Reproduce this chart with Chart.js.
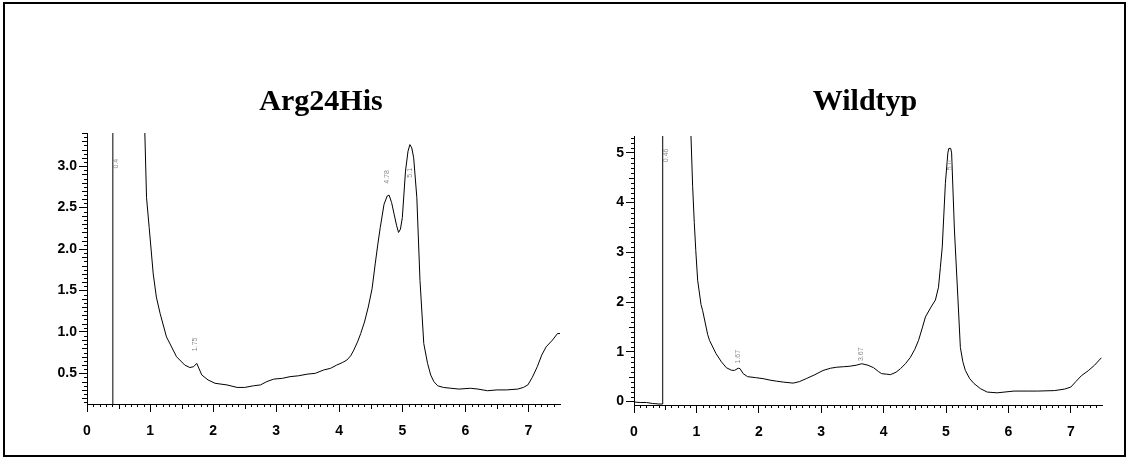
<!DOCTYPE html>
<html>
<head>
<meta charset="utf-8">
<script src="https://cdn.jsdelivr.net/npm/chart.js@4.4.1/dist/chart.umd.min.js"></script>
<style>
    html, body { margin: 0; padding: 0; background: #fff; }
    #page { position: relative; width: 1128px; height: 459px; overflow: hidden; }
    .box { position: absolute; top: 0; width: 564px; height: 459px; }
    .title { position: absolute; top: 85px; font: bold 30px "Liberation Serif", "Times New Roman", serif;
             line-height: 30px; transform: translateX(-50%); white-space: nowrap; color: #000; }
    #frame { position: absolute; left: 3px; top: 2px; width: 1119px; height: 451px;
             border: 2px solid #000; pointer-events: none; }
</style>
</head>
<body>
<div id="page">
    <div class="box" style="left:0"><canvas id="chartLeft" width="564" height="459"></canvas></div>
    <div class="box" style="left:564px"><canvas id="chartRight" width="564" height="459"></canvas></div>
    <div class="title" style="left:321px">Arg24His</div>
    <div class="title" style="left:865px">Wildtyp</div>
    <div id="frame"></div>
</div>
<script>
/* ---- data ---- */
var xTickValues = [0, 1, 2, 3, 4, 5, 6, 7];
var leftYTickValues = [0.5, 1.0, 1.5, 2.0, 2.5, 3.0];
var rightYTickValues = [0, 1, 2, 3, 4, 5];

// Arg24His
var leftTime = [0, 0.39, 0.40, 0.41, 0.90, 0.917, 0.944, 0.986, 1.05, 1.10, 1.16, 1.26, 1.42, 1.55, 1.63, 1.69, 1.74,
    1.82, 1.92, 2.03, 2.22, 2.38, 2.50, 2.64, 2.75, 2.85, 2.96, 3.10, 3.22, 3.35, 3.49, 3.62, 3.75, 3.86, 3.96, 4.05,
    4.12, 4.18, 4.23, 4.29, 4.34, 4.40, 4.46, 4.52, 4.57, 4.61, 4.65, 4.71, 4.76, 4.79, 4.83, 4.87, 4.91, 4.94, 4.97,
    5.00, 5.05, 5.09, 5.12, 5.15, 5.18, 5.23, 5.28, 5.34, 5.40, 5.45, 5.50, 5.56, 5.65, 5.77, 5.90, 6.08, 6.20, 6.35,
    6.50, 6.65, 6.83, 6.92, 6.99, 7.06, 7.14, 7.21, 7.28, 7.38, 7.46, 7.50];
var leftSignal = [0, 0, 0, 6, 6, 3.40, 2.62, 2.26, 1.70, 1.42, 1.22, 0.94, 0.70, 0.60, 0.57, 0.58, 0.62,
    0.48, 0.42, 0.38, 0.36, 0.33, 0.33, 0.35, 0.36, 0.40, 0.43, 0.44, 0.46, 0.47, 0.49, 0.50, 0.54, 0.56, 0.60, 0.63,
    0.66, 0.71, 0.78, 0.88, 0.98, 1.12, 1.30, 1.52, 1.82, 2.05, 2.26, 2.54, 2.64, 2.65, 2.56, 2.42, 2.28, 2.20, 2.24,
    2.38, 2.94, 3.18, 3.26, 3.22, 3.10, 2.62, 1.62, 0.86, 0.62, 0.48, 0.40, 0.35, 0.33, 0.32, 0.31, 0.32, 0.31, 0.29,
    0.30, 0.30, 0.31, 0.33, 0.36, 0.45, 0.58, 0.72, 0.82, 0.90, 0.98, 0.98];

// Wildtyp
var rightTime = [0, 0.10, 0.20, 0.30, 0.40, 0.45, 0.46, 0.90, 0.913, 0.94, 0.966, 0.99, 1.02, 1.074, 1.10, 1.18, 1.21,
    1.316, 1.40, 1.48, 1.56, 1.61, 1.67, 1.70, 1.75, 1.82, 1.95, 2.07, 2.18, 2.28, 2.40, 2.55, 2.65, 2.76, 2.90, 3.03,
    3.15, 3.25, 3.36, 3.46, 3.56, 3.65, 3.75, 3.84, 3.92, 3.97, 4.05, 4.11, 4.20, 4.27, 4.35, 4.43, 4.50, 4.56, 4.62,
    4.67, 4.76, 4.83, 4.88, 4.91, 4.94, 4.99, 5.03, 5.045, 5.075, 5.09, 5.135, 5.19, 5.23, 5.27, 5.31, 5.38, 5.45,
    5.55, 5.66, 5.82, 6.09, 6.30, 6.47, 6.74, 6.90, 7.00, 7.08, 7.17, 7.28, 7.38, 7.49];
var rightSignal = [-0.01, -0.02, -0.02, -0.04, -0.05, -0.05, 7, 7, 5.34, 4.32, 3.6, 3.04, 2.44, 1.95, 1.83, 1.35, 1.23,
    0.96, 0.80, 0.68, 0.63, 0.625, 0.67, 0.66, 0.56, 0.50, 0.48, 0.46, 0.43, 0.41, 0.39, 0.37, 0.40, 0.46, 0.54, 0.625,
    0.67, 0.69, 0.70, 0.71, 0.73, 0.76, 0.73, 0.68, 0.60, 0.56, 0.55, 0.54, 0.59, 0.66, 0.76, 0.89, 1.05, 1.23, 1.48,
    1.70, 1.90, 2.04, 2.30, 2.70, 3.11, 4.39, 5.0, 5.09, 5.09, 5.0, 3.45, 2.10, 1.09, 0.80, 0.625, 0.46, 0.36,
    0.26, 0.19, 0.175, 0.21, 0.21, 0.21, 0.22, 0.25, 0.29, 0.40, 0.52, 0.62, 0.73, 0.88];

// small rotated peak annotations
var leftPeakTimes = [0.46, 1.72, 4.76, 5.13];
var leftPeakLevels = [3.03, 0.85, 2.87, 2.92];
var leftPeakTexts = ['0.4', '1.75', '4.78', '5.1'];
var rightPeakTimes = [0.52, 1.67, 3.64, 5.06];
var rightPeakLevels = [4.95, 0.90, 0.95, 4.75];
var rightPeakTexts = ['0.46', '1.67', '3.67', '5.0'];

/* ---- helpers ---- */
function toPoints(xs, ys) {
    return xs.map(function(x, i) { return { x: x, y: ys[i] }; });
}

function minorList(from, to, step, skipEvery, longEvery) {
    var list = [];
    for (var i = from; i <= to; i++) {
        if (i % skipEvery === 0) continue;
        list.push({ v: i * step, len: (i % longEvery === 0) ? 5 : 3 });
    }
    return list;
}

// minor tick marks + peak labels, placed through the chart's own scales
var extrasPlugin = {
    id: 'extras',
    afterDraw: function(chart, args, opts) {
        var ctx = chart.ctx, xs = chart.scales.x, ys = chart.scales.y, area = chart.chartArea;
        ctx.save();
        ctx.strokeStyle = '#000';
        ctx.lineWidth = 1;
        ctx.beginPath();
        opts.xMinor.forEach(function(t) {
            var px = Math.round(xs.getPixelForValue(t.v)) + 0.5;
            ctx.moveTo(px, area.bottom);
            ctx.lineTo(px, area.bottom + t.len);
        });
        opts.yMinor.forEach(function(t) {
            var py = Math.round(ys.getPixelForValue(t.v)) + 0.5;
            if (py < area.top || py > area.bottom) return;
            ctx.moveTo(area.left, py);
            ctx.lineTo(area.left - t.len, py);
        });
        ctx.stroke();

        ctx.fillStyle = '#8a8a8a';
        ctx.font = '7px "Liberation Sans", Arial, sans-serif';
        ctx.textAlign = 'center';
        ctx.textBaseline = 'middle';
        opts.peakTimes.forEach(function(t, i) {
            ctx.save();
            ctx.translate(xs.getPixelForValue(t), ys.getPixelForValue(opts.peakLevels[i]));
            ctx.rotate(-Math.PI / 2);
            ctx.fillText(opts.peakTexts[i], 0, 0);
            ctx.restore();
        });
        ctx.restore();
    }
};

var tickFont = { family: '"Liberation Sans", Arial, sans-serif', size: 14, weight: 'bold' };

function makeChart(id, xs, ys, cfg) {
    return new Chart(document.getElementById(id), {
        type: 'line',
        data: {
            datasets: [{
                data: toPoints(xs, ys),
                borderColor: '#000',
                borderWidth: 1,
                pointRadius: 0,
                tension: 0,
                fill: false
            }]
        },
        options: {
            responsive: false,
            animation: false,
            events: [],
            layout: { padding: { left: 0, right: cfg.padRight, top: cfg.padTop, bottom: 0 } },
            plugins: {
                legend: { display: false },
                tooltip: { enabled: false },
                extras: cfg.extras
            },
            scales: {
                x: {
                    type: 'linear',
                    min: 0,
                    max: 7.5,
                    afterBuildTicks: function(scale) {
                        scale.ticks = xTickValues.map(function(v) { return { value: v }; });
                    },
                    afterFit: function(scale) { scale.height = cfg.xHeight; },
                    border: { display: true, color: '#000', width: 1 },
                    grid: { drawOnChartArea: false, drawTicks: true, tickLength: 8, color: '#000' },
                    ticks: {
                        color: '#000', font: tickFont, padding: 11, autoSkip: false, maxRotation: 0,
                        callback: function(v) { return String(v); }
                    }
                },
                y: {
                    type: 'linear',
                    min: cfg.yMin,
                    max: cfg.yMax,
                    afterBuildTicks: function(scale) {
                        scale.ticks = cfg.yTicks.map(function(v) { return { value: v }; });
                    },
                    afterFit: function(scale) { scale.width = cfg.yWidth; },
                    border: { display: true, color: '#000', width: 1 },
                    grid: { drawOnChartArea: false, drawTicks: true, tickLength: 8, color: '#000' },
                    ticks: {
                        color: '#000', font: tickFont, padding: 2, autoSkip: false,
                        callback: cfg.yLabel
                    }
                }
            }
        },
        plugins: [extrasPlugin]
    });
}

makeChart('chartLeft', leftTime, leftSignal, {
    padRight: 4, padTop: 133, xHeight: 55, yWidth: 87,
    yMin: 0.13, yMax: 3.40, yTicks: leftYTickValues,
    yLabel: function(v) { return v.toFixed(1); },
    extras: {
        xMinor: minorList(1, 74, 0.1, 10, 5),
        yMinor: minorList(3, 68, 0.05, 10, 2),
        peakTimes: leftPeakTimes, peakLevels: leftPeakLevels, peakTexts: leftPeakTexts
    }
});

makeChart('chartRight', rightTime, rightSignal, {
    padRight: 26, padTop: 136, xHeight: 54, yWidth: 70,
    yMin: -0.07, yMax: 5.34, yTicks: rightYTickValues,
    yLabel: function(v) { return String(v); },
    extras: {
        xMinor: minorList(1, 74, 0.1, 10, 5),
        yMinor: minorList(1, 53, 0.1, 10, 5),
        peakTimes: rightPeakTimes, peakLevels: rightPeakLevels, peakTexts: rightPeakTexts
    }
});
</script>
</body>
</html>
